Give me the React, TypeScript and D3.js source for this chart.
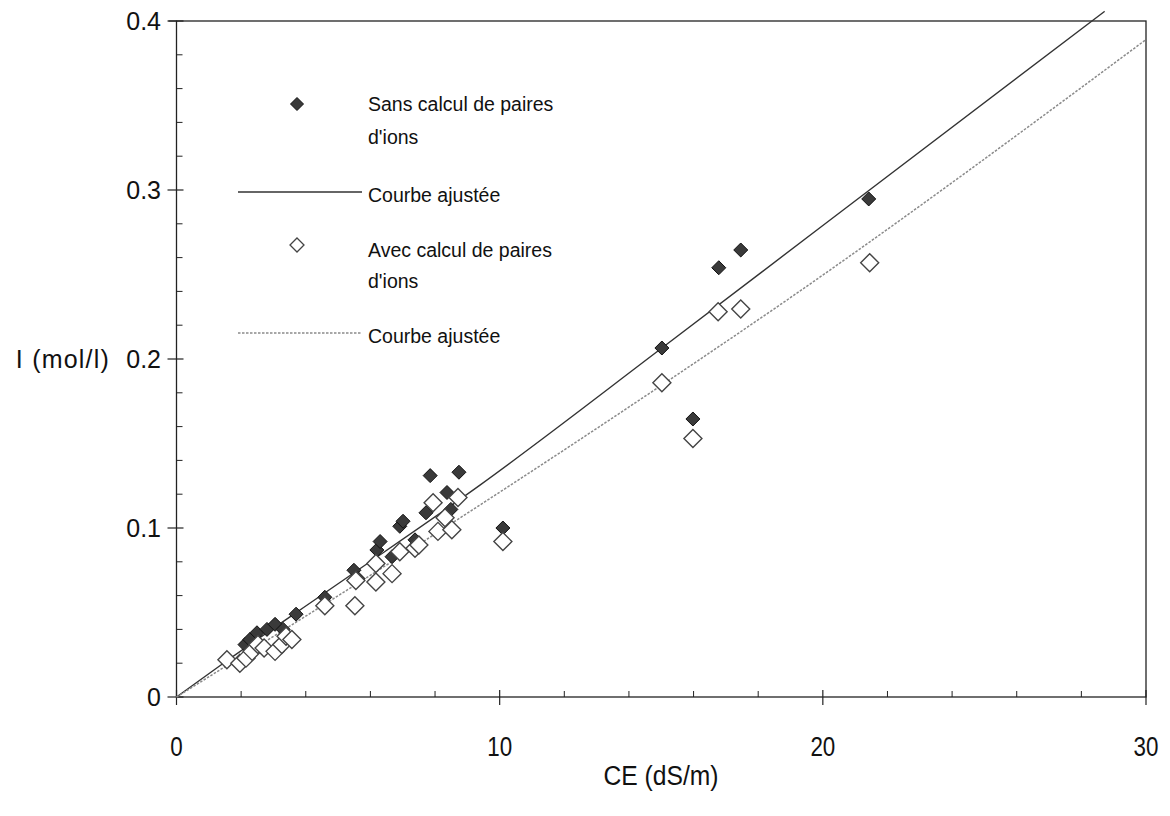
import React from "react";
import * as d3 from "d3";

// Sans calcul de paires d'ions (filled diamonds)
const sansCE = [2.12, 2.27, 2.49, 2.8, 3.05, 3.3, 3.7, 4.59, 5.49, 5.62, 6.2, 6.3, 6.67, 6.91, 7.01, 7.38, 7.72, 7.85, 8.37, 8.49, 8.74, 10.1, 15.02, 15.98, 16.78, 17.46, 21.42];
const sansI = [0.031, 0.034, 0.038, 0.04, 0.043, 0.04, 0.049, 0.059, 0.075, 0.07, 0.087, 0.092, 0.083, 0.101, 0.104, 0.093, 0.109, 0.131, 0.121, 0.111, 0.133, 0.1, 0.2065, 0.1645, 0.254, 0.2645, 0.2947];

// Avec calcul de paires d'ions (open diamonds)
const avecCE = [1.56, 1.96, 2.15, 2.34, 2.52, 2.71, 3.05, 3.26, 3.39, 3.57, 4.59, 5.52, 5.55, 6.17, 6.17, 6.67, 6.91, 7.38, 7.5, 7.94, 8.09, 8.31, 8.52, 8.71, 10.1, 15.02, 15.98, 16.76, 17.46, 21.45];
const avecI = [0.022, 0.02, 0.023, 0.027, 0.031, 0.029, 0.027, 0.031, 0.036, 0.034, 0.054, 0.054, 0.069, 0.068, 0.079, 0.073, 0.086, 0.088, 0.09, 0.115, 0.098, 0.106, 0.099, 0.118, 0.092, 0.186, 0.153, 0.228, 0.2296, 0.257];

// Fitted curves
const fitSansCE = [0, 1.45, 5, 9.39, 15.02, 20, 28.72];
const fitSansI = [0, 0.02, 0.067, 0.1254, 0.2065, 0.279, 0.4057];
const fitAvecCE = [0, 9.39, 15.36, 18.89, 30];
const fitAvecI = [0, 0.1136, 0.189, 0.2349, 0.389];

const xMajor = [0, 10, 20, 30];
const xMinor = [2, 4, 6, 8, 12, 14, 16, 18, 22, 24, 26, 28];
const yMajor = [0, 0.1, 0.2, 0.3, 0.4];
const yMinor = [0.02, 0.04, 0.06, 0.08, 0.12, 0.14, 0.16, 0.18, 0.22, 0.24, 0.26, 0.28, 0.32, 0.34, 0.36, 0.38];
const yTickLabels = ["0", "0.1", "0.2", "0.3", "0.4"];
const xTickLabels = ["0", "10", "20", "30"];

const legendItems = [
  { kind: "filled", lines: ["Sans calcul de paires", "d'ions"] },
  { kind: "solid", lines: ["Courbe ajustée"] },
  { kind: "open", lines: ["Avec calcul de paires", "d'ions"] },
  { kind: "dotted", lines: ["Courbe ajustée"] },
];

const W = 1170;
const H = 816;
const L = 176.5, R = 1146, T = 21, B = 697;

export default function App() {
  const x = d3.scaleLinear().domain([0, 30]).range([L, R]);
  const y = d3.scaleLinear().domain([0, 0.4]).range([B, T]);
  const sans = sansCE.map((c, i) => [c, sansI[i]] as [number, number]);
  const avec = avecCE.map((c, i) => [c, avecI[i]] as [number, number]);
  const fitS = fitSansCE.map((c, i) => [c, fitSansI[i]] as [number, number]);
  const fitA = fitAvecCE.map((c, i) => [c, fitAvecI[i]] as [number, number]);
  const line = d3.line<[number, number]>().x((d) => x(d[0])).y((d) => y(d[1])).curve(d3.curveMonotoneX);
  const sym = (r: number) => `M0,${-r}L${r},0L0,${r}L${-r},0Z`;
  const font = "'Liberation Sans', Arial, Helvetica, sans-serif";
  const ink = "#222";

  const legendY = [104, 192, 245, 333];
  const legendTextY = [[111, 144], [202], [257, 288], [343]];

  return (
    <svg width={W} height={H} style={{ position: "absolute", left: 0, top: 0, background: "#fff" }} fontFamily={font}>
      <rect x={0} y={0} width={W} height={H} fill="#fff" />
      {/* frame */}
      <rect x={L} y={T} width={R - L} height={B - T} fill="none" stroke={ink} strokeWidth={1.3} />
      <line x1={L - 8} x2={L} y1={T} y2={T} stroke={ink} strokeWidth={1.2} />
      {/* y ticks */}
      {yMajor.map((v) => (
        <line key={"ym" + v} x1={L - 9} x2={L + 7} y1={y(v)} y2={y(v)} stroke={ink} strokeWidth={1.2} />
      ))}
      {yMinor.map((v) => (
        <line key={"yn" + v} x1={L} x2={L + 6} y1={y(v)} y2={y(v)} stroke={ink} strokeWidth={1} />
      ))}
      {/* x ticks */}
      {xMajor.map((v) => (
        <line key={"xm" + v} x1={x(v)} x2={x(v)} y1={B - 7} y2={B + 8} stroke={ink} strokeWidth={1.2} />
      ))}
      {xMinor.map((v) => (
        <line key={"xn" + v} x1={x(v)} x2={x(v)} y1={B - 6} y2={B} stroke={ink} strokeWidth={1} />
      ))}
      {/* tick labels */}
      {yMajor.map((v, i) => (
        <text key={"yl" + v} x={161} y={y(v) + 9} textAnchor="end" fontSize={25} fill="#111">
          {yTickLabels[i]}
        </text>
      ))}
      {xMajor.map((v, i) => (
        <text key={"xl" + v} transform={`translate(${x(v)},756) scale(0.8,1)`} textAnchor="middle" fontSize={28} fill="#111">
          {xTickLabels[i]}
        </text>
      ))}
      <text x={110} y={y(0.2) + 9} textAnchor="end" fontSize={25} letterSpacing={1.2} fill="#111">I (mol/l)</text>
      <text transform="translate(661,785) scale(0.88,1)" textAnchor="middle" fontSize={28} fill="#111">CE (dS/m)</text>

      {/* fit curves */}
      <path d={line(fitS) || ""} fill="none" stroke="#333" strokeWidth={1.4} />
      <path d={line(fitA) || ""} fill="none" stroke="#8a8a8a" strokeWidth={1.5} strokeDasharray="2.5 1.5" />

      {/* points */}
      {sans.map((d, i) => (
        <path key={"s" + i} d={sym(7)} transform={`translate(${x(d[0])},${y(d[1])})`} fill="#3a3a3a" stroke="#111" strokeWidth={1} />
      ))}
      {avec.map((d, i) => (
        <path key={"a" + i} d={sym(9)} transform={`translate(${x(d[0])},${y(d[1])})`} fill="#fff" stroke="#444" strokeWidth={1.4} />
      ))}

      {/* legend */}
      {legendItems.map((it, i) => (
        <g key={"lg" + i}>
          {it.kind === "filled" && (
            <path d={sym(6.5)} transform={`translate(297,${legendY[i]})`} fill="#3a3a3a" stroke="#111" strokeWidth={1} />
          )}
          {it.kind === "open" && (
            <path d={sym(7)} transform={`translate(297,${legendY[i]})`} fill="#fff" stroke="#444" strokeWidth={1.3} />
          )}
          {it.kind === "solid" && <line x1={238} x2={362} y1={legendY[i]} y2={legendY[i]} stroke="#333" strokeWidth={1.4} />}
          {it.kind === "dotted" && (
            <line x1={238} x2={362} y1={legendY[i]} y2={legendY[i]} stroke="#8a8a8a" strokeWidth={1.5} strokeDasharray="2.5 1.5" />
          )}
          {it.lines.map((t, j) => (
            <text key={j} x={368} y={legendTextY[i][j]} fontSize={19.5} fill="#111">
              {t}
            </text>
          ))}
        </g>
      ))}
    </svg>
  );
}
